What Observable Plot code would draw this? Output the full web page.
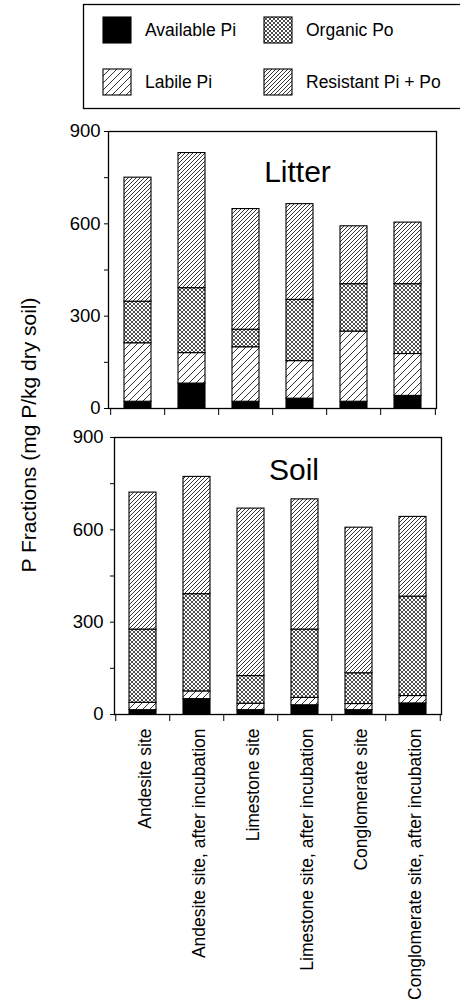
<!DOCTYPE html>
<html>
<head>
<meta charset="utf-8">
<script src="https://cdn.jsdelivr.net/npm/d3@7"></script>
<script src="https://cdn.jsdelivr.net/npm/@observablehq/plot@0.6"></script>
<style>
  html, body { margin: 0; padding: 0; background: white; }
  #wrap { position: relative; width: 460px; height: 1005px; overflow: hidden; font-family: "Liberation Sans", Arial, Helvetica, sans-serif; }
  #wrap > svg, #wrap > div { position: absolute; left: 0; }
</style>
</head>
<body>
<div id="wrap"></div>
<script>
// ---- data ----
const sites = [
  "Andesite site",
  "Andesite site, after incubation",
  "Limestone site",
  "Limestone site, after incubation",
  "Conglomerate site",
  "Conglomerate site, after incubation"
];
const fractions = ["Available Pi", "Labile Pi", "Organic Po", "Resistant Pi + Po"];
const fills = ["black", "url(#p-labile)", "url(#p-organic)", "url(#p-resistant)"];

const litterAvailable = [22, 81, 22, 32, 22, 41];
const litterLabile    = [190, 99, 177, 122, 228, 136];
const litterOrganic   = [135, 211, 57, 199, 154, 227];
const litterResistant = [403, 439, 392, 311, 188, 200];

const soilAvailable = [14, 50, 14, 30, 14, 36];
const soilLabile    = [24, 25, 21, 24, 20, 24];
const soilOrganic   = [238, 316, 90, 222, 100, 323];
const soilResistant = [445, 381, 544, 423, 473, 259];

const yMajor = [0, 300, 600, 900];
const yMinor = [150, 450, 750];
const yLabel = "P Fractions (mg P/kg dry soil)";

function rows(series) {
  const out = [];
  fractions.forEach((f, j) => sites.forEach((s, i) => out.push({site: s, fraction: f, value: series[j][i]})));
  return out;
}
const litter = rows([litterAvailable, litterLabile, litterOrganic, litterResistant]);
const soil = rows([soilAvailable, soilLabile, soilOrganic, soilResistant]);

const FONT = '"Liberation Sans", Arial, Helvetica, sans-serif';

function addDefs(svgNode) {
  const svg = d3.select(svgNode);
  const defs = svg.insert("defs", ":first-child");
  const lab = defs.append("pattern").attr("id", "p-labile").attr("patternUnits", "userSpaceOnUse").attr("width", 7).attr("height", 7);
  lab.append("rect").attr("width", 7).attr("height", 7).attr("fill", "white");
  lab.append("path").attr("d", "M-1,1 L1,-1 M0,7 L7,0 M6,8 L8,6").attr("stroke", "black").attr("stroke-width", 0.8);
  const res = defs.append("pattern").attr("id", "p-resistant").attr("patternUnits", "userSpaceOnUse").attr("width", 4).attr("height", 4);
  res.append("rect").attr("width", 4).attr("height", 4).attr("fill", "white");
  res.append("path").attr("d", "M-1,1 L1,-1 M0,4 L4,0 M3,5 L5,3").attr("stroke", "#111").attr("stroke-width", 0.85);
  const org = defs.append("pattern").attr("id", "p-organic").attr("patternUnits", "userSpaceOnUse").attr("width", 4).attr("height", 4);
  org.append("rect").attr("width", 4).attr("height", 4).attr("fill", "white");
  org.append("path").attr("d", "M-1,1 L1,-1 M0,4 L4,0 M3,5 L5,3 M-1,3 L1,5 M0,0 L4,4 M3,-1 L5,1").attr("stroke", "#111").attr("stroke-width", 0.75);
}

function panel(data, opts) {
  const innerW = 460 - opts.ml - opts.mr;
  const step = innerW / sites.length;
  const marks = [
    Plot.barY(data, {x: "site", y: "value", fill: "fraction", order: fractions, stroke: "black", strokeWidth: 1.1}),
    Plot.frame({stroke: "black", strokeWidth: 1.3}),
    Plot.axisY(yMajor, {tickSize: 4, tickPadding: opts.tp, fontSize: 18.5, label: null}),
    Plot.axisY(yMinor, {tickSize: 4, tickFormat: () => "", label: null}),
    Plot.axisX(sites, {tickSize: 7, dx: -step / 2, tickFormat: () => "", label: null}),
    Plot.axisX([sites[sites.length - 1]], {tickSize: 7, dx: step / 2, tickFormat: () => "", label: null}),
    Plot.text([opts.title], {text: d => d, frameAnchor: "top", dx: opts.tdx, dy: opts.tdy, lineAnchor: "bottom", fontSize: 30, fill: "black"})
  ];
  if (opts.labels) {
    marks.push(Plot.axisX(sites, {tickSize: 0, tickRotate: -90, tickPadding: 14, fontSize: 17.5, dx: 2, label: null}));
  }
  const p = Plot.plot({
    width: 460,
    height: opts.h,
    marginLeft: opts.ml,
    marginRight: opts.mr,
    marginTop: opts.mt,
    marginBottom: opts.mb,
    x: {domain: sites, paddingInner: 0.5, paddingOuter: 0.25, axis: null, label: null},
    y: {domain: [0, 900], axis: null, label: null},
    color: {domain: fractions, range: fills},
    style: {fontFamily: FONT, fontSize: "18px", color: "black", background: "transparent", overflow: "visible"},
    marks
  });
  addDefs(p);
  p.style.top = opts.top + "px";
  return p;
}

const wrap = document.getElementById("wrap");
wrap.appendChild(panel(litter, {top: 110, h: 308, ml: 108, mr: 24, mt: 21, mb: 10, tp: 4, title: "Litter", tdx: 25, tdy: 50, labels: false}));
wrap.appendChild(panel(soil, {top: 418, h: 587, ml: 114, mr: 19, mt: 19, mb: 291, tp: 7, title: "Soil", tdx: 16, tdy: 42, labels: true}));

// ---- legend + y label overlay ----
const ov = d3.select(wrap).append("svg").attr("width", 460).attr("height", 1005).style("top", "0px").style("pointer-events", "none");
addDefs(ov.node());
ov.append("rect").attr("x", 83.5).attr("y", 4.5).attr("width", 400).attr("height", 104).attr("fill", "white").attr("stroke", "black").attr("stroke-width", 1.3);
const legPos = [[0, 0], [0, 1], [1, 0], [1, 1]]; // [col,row] for each fraction
const colX = [103, 264], rowY = [17, 69];
fractions.forEach((f, i) => {
  const [c, r] = legPos[i];
  const g = ov.append("g").attr("transform", `translate(${colX[c]},${rowY[r]})`);
  g.append("rect").attr("width", 28).attr("height", 26).attr("fill", fills[i]).attr("stroke", "black").attr("stroke-width", 1.1);
  g.append("text").attr("x", 42).attr("y", 18.5).attr("font-family", FONT).attr("font-size", 17.5).attr("fill", "black").text(f);
});
ov.append("text")
  .attr("transform", "translate(36,435) rotate(-90)")
  .attr("text-anchor", "middle")
  .attr("font-family", FONT).attr("font-size", 21).attr("fill", "black")
  .text(yLabel);
</script>
</body>
</html>
